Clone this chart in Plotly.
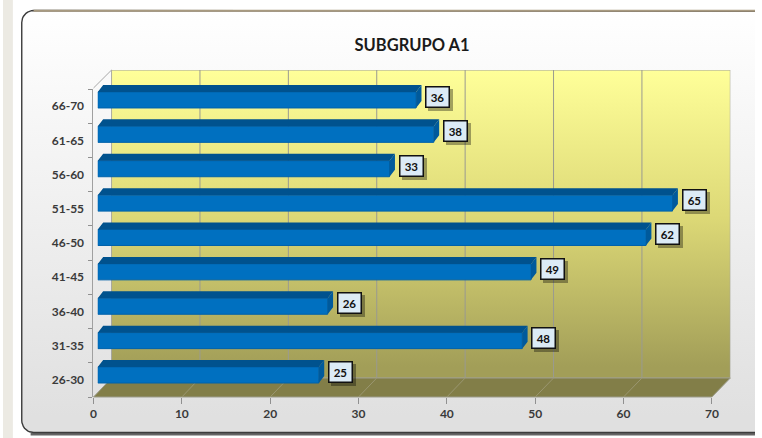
import numpy as np
import plotly.graph_objects as go

# ---------------- data ----------------
categories = ["26-30", "31-35", "36-40", "41-45", "46-50", "51-55", "56-60", "61-65", "66-70"]
values = [25, 48, 26, 49, 62, 65, 33, 38, 36]
x_ticks = [0, 10, 20, 30, 40, 50, 60, 70]
chart_title = "SUBGRUPO A1"

# ---------------- geometry (pixels) ----------------
W, H = 762, 438
FRONT_X = (91.7, 718.3)     # front plane 0..70
FRONT_Y = (89, 397)         # front plane top/bottom
BACK_X = (110, 737)         # back wall 0..70
BACK_Y = (70, 378)          # back wall top/bottom
BAR_X = (96, 723.2)         # bar plane 0..70
BAR_Y = (392.2, 82.8)       # bar plane index -0.5 .. 8.5
XMAX = 70


def fx(p):
    return p / W


def fy(p):
    return 1 - p / H


def xf(v):
    return FRONT_X[0] + (FRONT_X[1] - FRONT_X[0]) * v / XMAX


def xb(v):
    return BACK_X[0] + (BACK_X[1] - BACK_X[0]) * v / XMAX


def rrect(x0, y0, x1, y1, r, n=10):
    pts = []
    for cx, cy, a0 in [(x0 + r, y0 + r, 180), (x1 - r, y0 + r, 270),
                       (x1 - r, y1 - r, 0), (x0 + r, y1 - r, 90)]:
        for a in np.linspace(a0, a0 + 90, n):
            t = np.radians(a)
            pts.append((cx + r * np.cos(t), cy + r * np.sin(t)))
    pts.append(pts[0])
    return [p[0] for p in pts], [p[1] for p in pts]


fig = go.Figure()
PX = dict(xaxis="x", yaxis="y")

# left strip of the page
fig.add_trace(go.Scatter(x=[0, 10, 10, 0, 0], y=[0, 0, H, H, 0], fill="toself",
                         fillcolor="#eceae3", line=dict(width=0), mode="lines",
                         hoverinfo="skip", showlegend=False, **PX))

# chart-area frame
frx, fry = rrect(19, 10.5, 800, 432.5, 12)
fig.add_trace(go.Scatter(x=frx, y=fry, fill="toself", mode="lines",
                         fillgradient=dict(type="vertical", start=10, stop=432,
                                           colorscale=[[0, "#ffffff"], [1, "#e0e0e0"]]),
                         line=dict(color="#3c3c3c", width=1.4),
                         hoverinfo="skip", showlegend=False, **PX))
fig.add_trace(go.Scatter(x=[31, 800], y=[10.8, 10.8], mode="lines",
                         line=dict(color="#a89a80", width=2),
                         hoverinfo="skip", showlegend=False, **PX))
fig.add_trace(go.Scatter(x=[28, 800], y=[434.2, 434.2], mode="lines",
                         line=dict(color="rgba(50,50,50,0.75)", width=2.5),
                         hoverinfo="skip", showlegend=False, **PX))

# floor
fig.add_trace(go.Scatter(x=[BACK_X[0], BACK_X[1], FRONT_X[1], FRONT_X[0], BACK_X[0]],
                         y=[BACK_Y[1], BACK_Y[1], FRONT_Y[1], FRONT_Y[1], BACK_Y[1]],
                         fill="toself", fillcolor="#827e48", mode="lines",
                         line=dict(color="#9c9c8c", width=1),
                         hoverinfo="skip", showlegend=False, **PX))
dx, dy = [], []
for v in x_ticks[1:-1]:
    dx += [xb(v), xf(v), None]
    dy += [BACK_Y[1], FRONT_Y[1], None]
fig.add_trace(go.Scatter(x=dx, y=dy, mode="lines", line=dict(color="#9a9670", width=1),
                         hoverinfo="skip", showlegend=False, **PX))
# left side wall edges
fig.add_trace(go.Scatter(x=[FRONT_X[0], BACK_X[0], BACK_X[0]],
                         y=[FRONT_Y[0] - 1, BACK_Y[0], BACK_Y[1]], mode="lines",
                         line=dict(color="#a8a8a8", width=1),
                         hoverinfo="skip", showlegend=False, **PX))

# ---------------- back wall (x2/y2) ----------------
fig.add_trace(go.Scatter(x=[0, XMAX, XMAX, 0, 0], y=[0, 0, 1, 1, 0], fill="toself",
                         mode="lines",
                         fillgradient=dict(type="vertical", start=0, stop=1,
                                           colorscale=[[0, "#a29e58"], [0.5, "#dcd876"],
                                                       [1, "#ffff99"]]),
                         line=dict(color="#a0a0a0", width=1),
                         hoverinfo="skip", showlegend=False, xaxis="x2", yaxis="y2"))
gx, gy = [], []
for v in x_ticks[1:-1]:
    gx += [v, v, None]
    gy += [0, 1, None]
fig.add_trace(go.Scatter(x=gx, y=gy, mode="lines", line=dict(color="#9a9a90", width=1),
                         hoverinfo="skip", showlegend=False, xaxis="x2", yaxis="y2"))

# ---------------- front axes (x3/y3) ----------------
fig.add_trace(go.Scatter(x=[0] * len(categories), y=categories, mode="markers",
                         marker=dict(opacity=0), hoverinfo="skip", showlegend=False,
                         xaxis="x3", yaxis="y3"))

# ---------------- bars (x4/y4) ----------------
idx = list(range(len(categories)))
hh = 0.2325
dxu = 5.5 / ((BAR_X[1] - BAR_X[0]) / XMAX)
dyu = 7.0 / ((BAR_Y[0] - BAR_Y[1]) / 9)

fig.add_trace(go.Bar(x=values, y=idx, orientation="h", width=2 * hh,
                     marker=dict(color="#0070c0", line=dict(color="#0062aa", width=1)),
                     hoverinfo="skip", showlegend=False, xaxis="x4", yaxis="y4"))
tx, ty, ex, ey = [], [], [], []
for i, v in zip(idx, values):
    tx += [0, v, v + dxu, dxu, 0, None]
    ty += [i + hh, i + hh, i + hh + dyu, i + hh + dyu, i + hh, None]
    ex += [v, v + dxu, v + dxu, v, v, None]
    ey += [i - hh, i - hh + dyu, i + hh + dyu, i + hh, i - hh, None]
fig.add_trace(go.Scatter(x=tx, y=ty, fill="toself", fillcolor="#00528e", mode="lines",
                         line=dict(width=0), hoverinfo="skip", showlegend=False,
                         xaxis="x4", yaxis="y4"))
fig.add_trace(go.Scatter(x=ex, y=ey, fill="toself", fillcolor="#005a9c", mode="lines",
                         line=dict(width=0), hoverinfo="skip", showlegend=False,
                         xaxis="x4", yaxis="y4"))

annotations = []
for i, v in zip(idx, values):
    annotations.append(dict(x=v, y=i + 0.09, xref="x4", yref="y4", xanchor="left",
                            yanchor="middle", xshift=12, yshift=-3, text=" ",
                            showarrow=False, width=21, height=18, borderpad=2,
                            bgcolor="rgba(0,0,0,0.35)", borderwidth=0))
    annotations.append(dict(x=v, y=i + 0.09, xref="x4", yref="y4", xanchor="left",
                            yanchor="middle", xshift=9, text=str(v), showarrow=False,
                            width=18, height=15, borderpad=2, bgcolor="#dcebf6",
                            bordercolor="#111111", borderwidth=1.5,
                            font=dict(family="Lato", size=11.5, color="#111111",
                                      weight="bold")))

hidden = dict(visible=False, fixedrange=True)
tickfont = dict(family="Lato", size=12, color="#3a3a3a", weight="bold")
fig.update_layout(
    autosize=True, margin=dict(l=0, r=0, t=0, b=0, pad=0),
    paper_bgcolor="white", plot_bgcolor="rgba(0,0,0,0)",
    showlegend=False,
    title=dict(text=chart_title, x=fx(412), y=fy(45), xanchor="center", yanchor="middle",
               font=dict(family="Lato", size=16.5, color="#1a1a1a", weight="bold")),
    xaxis=dict(domain=[0, 1], range=[0, W], **hidden),
    yaxis=dict(domain=[0, 1], range=[H, 0], **hidden),
    xaxis2=dict(domain=[fx(BACK_X[0]), fx(BACK_X[1])], range=[0, XMAX], anchor="y2", **hidden),
    yaxis2=dict(domain=[fy(BACK_Y[1]), fy(BACK_Y[0])], range=[0, 1], anchor="x2", **hidden),
    xaxis3=dict(domain=[fx(FRONT_X[0]), fx(FRONT_X[1])], range=[0, XMAX], anchor="y3",
                tickmode="array", tickvals=x_ticks, ticks="outside", ticklen=6,
                tickcolor="#909090", showgrid=False, zeroline=False, showline=False,
                tickfont=tickfont, fixedrange=True),
    yaxis3=dict(domain=[fy(FRONT_Y[1]), fy(FRONT_Y[0])], type="category",
                categoryorder="array", categoryarray=categories, range=[-0.5, 8.5],
                anchor="x3", tickson="boundaries", ticks="outside", ticklen=4,
                tickcolor="#909090", showline=True, linecolor="#a0a0a0", linewidth=1,
                showgrid=False, tickfont=tickfont, ticklabelstandoff=6, fixedrange=True),
    xaxis4=dict(domain=[fx(BAR_X[0]), fx(BAR_X[1])], range=[0, XMAX], anchor="y4", **hidden),
    yaxis4=dict(domain=[fy(BAR_Y[0]), fy(BAR_Y[1])], range=[-0.5, 8.5], anchor="x4", **hidden),
    annotations=annotations,
)

post = (
    "document.documentElement.style.height='100%';"
    "document.body.style.height='100%';"
    "document.body.style.margin='0';"
    "document.body.style.overflow='hidden';"
    "var gd=document.getElementById('{plot_id}');"
    "gd.parentNode.style.width='100vw';gd.parentNode.style.height='100vh';"
    "gd.style.width='100vw';gd.style.height='100vh';"
    "Plotly.Plots.resize(gd);"
)
fig.write_html("out.html", config={"displayModeBar": False, "responsive": True},
               default_width="100%", default_height="100%", post_script=post)
